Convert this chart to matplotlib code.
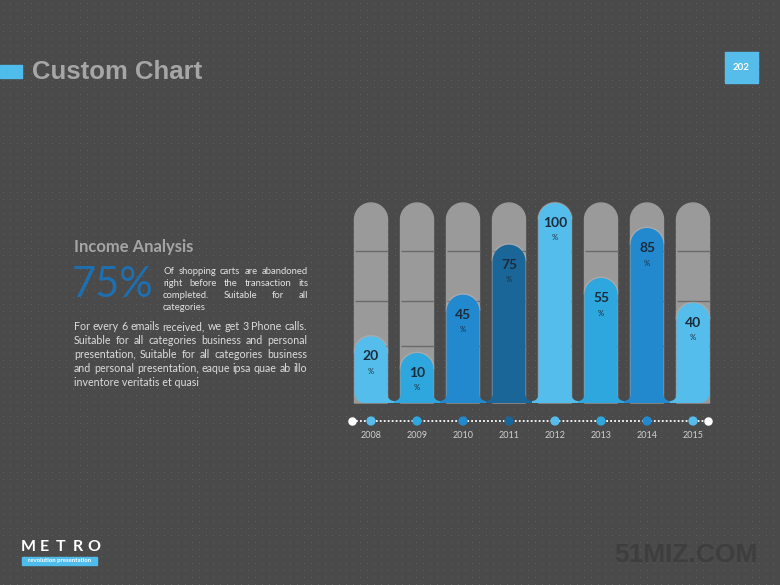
import numpy as np
import matplotlib.pyplot as plt
from matplotlib.patches import Polygon, Rectangle

# data
years = ['2008', '2009', '2010', '2011', '2012', '2013', '2014', '2015']
values = [20, 10, 45, 75, 100, 55, 85, 40]
bar_colors = ['#55bdec', '#2ea6de', '#2389cf', '#1b6699',
              '#55bdec', '#2ea6de', '#2389cf', '#55bdec']
grid_levels = [14, 41, 71]

side_lines = ['Of shopping carts are abandoned',
              'right before the transaction its',
              'completed. Suitable for all',
              'categories']
body_lines = ['For every 6 emails received, we get 3 Phone calls.',
              'Suitable for all categories business and personal',
              'presentation, Suitable for all categories business',
              'and personal presentation, eaque ipsa quae ab illo',
              'inventore veritatis et quasi']

W, H = 780, 585
fig = plt.figure(figsize=(7.8, 5.85), dpi=100)

# dotted dark background
bg = fig.add_axes([0, 0, 1, 1])
img = np.full((H, W, 3), 0x4a / 255)
yy, xx = np.mgrid[0:H, 0:W]
img[(yy % 7 == 3) & (xx % 7 == 3)] = 0x5e / 255
bg.imshow(img, extent=[0, W, H, 0], interpolation='nearest', aspect='auto')
bg.set_xlim(0, W)
bg.set_ylim(H, 0)
bg.axis('off')

# header
bg.add_patch(Rectangle((0, 65), 22, 13, color='#4fbdec'))
bg.text(32, 72, 'Custom Chart', fontsize=18.5, fontweight='bold',
        color='#a6a6a6', family='Liberation Sans', va='center')
bg.add_patch(Rectangle((725, 52), 33, 31, color='#56bdea'))
bg.text(741.5, 67.5, '202', fontsize=7, fontweight='bold', color='white',
        ha='center', va='center', family='Lato')

# left text block
bg.text(74, 247, 'Income Analysis', fontsize=12, fontweight='bold',
        color='#a5a5a5', va='center', family='Lato')
bg.text(72, 285, '75%', fontsize=30, color='#1e6fb0', va='center', family='Lato')

renderer = fig.canvas.get_renderer()


def justified(lines, x0, x1, y0, dy, size, color):
    # y0 is the baseline of the first line
    for i, line in enumerate(lines):
        y = y0 + i * dy
        if i == len(lines) - 1:
            bg.text(x0, y, line, fontsize=size, color=color, va='baseline', family='Lato')
            continue
        words = line.split()
        texts = [bg.text(x0, y, w, fontsize=size, color=color, va='baseline', family='Lato')
                 for w in words]
        widths = [t.get_window_extent(renderer).width for t in texts]
        gap = (x1 - x0 - sum(widths)) / (len(words) - 1)
        x = x0
        for t, w in zip(texts, widths):
            t.set_x(x)
            x += w + gap


justified(side_lines, 163, 308, 274.5, 11.8, 6.8, '#e2e2e2')
justified(body_lines, 74, 307, 330.5, 14, 7.7, '#dcdcdc')

# logo + watermark
for i, ch in enumerate('METRO'):
    bg.text(28 + i * 16.5, 547, ch, fontsize=11.5, fontweight='bold', color='white',
            ha='center', va='center', family='Lato')
bg.add_patch(Rectangle((22, 557), 75, 7.5, color='#4fbdec'))
bg.text(59.5, 560.8, 'revolution presentation', fontsize=4.3, fontweight='bold',
        color='white', ha='center', va='center', family='Lato')
bg.text(686, 555, '51MIZ.COM', fontsize=19, fontweight='bold', color='#3e3e3e',
        ha='center', va='center', family='Liberation Sans')

# chart axes (1 x unit = 46 px, 1 y unit = 1/0.6 px)
ax = fig.add_axes([340 / W, 1 - 450 / H, 380 / W, 260 / H])
ax.set_xlim(-31 / 46, 349 / 46)
ax.set_ylim(-48.2, 107.8)
ax.axis('off')

base = -20
hw = 16.5 / 46          # half bar width
ry = 16.5 * 0.6         # cap height
gx = 6.5 / 46           # half gap, x units
gy = 6.5 * 0.6          # half gap, y units
h0 = 2 * 0.6            # strip under the gaps
cx, cy = 10 / 46, 10 * 0.6  # outer corner radius


def cap_arc(c, top):
    t = np.linspace(np.pi, 0, 40)
    return np.column_stack([c + hw * np.cos(t), top - ry + ry * np.sin(t)])


def tube(c, top):
    return np.vstack([[c - hw, base], cap_arc(c, top), [c + hw, base]])


def bar_shape(c, top, first, last):
    q = np.linspace(0, np.pi / 2, 12)
    if first:
        left = np.column_stack([c - hw + cx - cx * np.cos(q), base + cy - cy * np.sin(q)])[::-1]
    else:
        # concave curve = rounded bottom of the gap between bars
        left = np.column_stack([c - hw - gx + gx * np.cos(q), base + h0 + gy - gy * np.sin(q)])[::-1]
        left = np.vstack([[c - hw - gx, base], left])
    if last:
        right = np.column_stack([c + hw - cx + cx * np.cos(q), base + cy - cy * np.sin(q)])
    else:
        right = np.column_stack([c + hw + gx - gx * np.cos(q), base + h0 + gy - gy * np.sin(q)])
        right = np.vstack([right, [c + hw + gx, base]])
    return np.vstack([left, cap_arc(c, top), right])


xs = np.arange(len(years))
n = len(xs)
for i, (c, v, col) in enumerate(zip(xs, values, bar_colors)):
    ax.add_patch(Polygon(tube(c, 100), closed=True, color='#9a9a9a', zorder=1))
    ax.hlines(grid_levels, c - hw, c + hw, color='#6a6a6a', lw=1, zorder=2)
    ax.add_patch(Polygon(cap_arc(c, v), closed=False, fill=False,
                         edgecolor=(1, 1, 1, 0.15), lw=2, zorder=2.5))
    ax.add_patch(Polygon(bar_shape(c, v, i == 0, i == n - 1), closed=True, facecolor=col,
                         edgecolor='none', zorder=3))
    ax.text(c, v - 12, str(v), ha='center', va='center', fontsize=10,
            fontweight='bold', color='#1c2b3a', family='Lato', zorder=4)
    ax.text(c, v - 21, '%', ha='center', va='center', fontsize=5.5,
            color='#1c2b3a', family='Lato', zorder=4)

# timeline
y_line = -30.8
ends = [-0.41, 7.33]
ax.plot(ends, [y_line, y_line], color='white', lw=1.3, ls=(0, (1, 1.2)), zorder=4)
ax.scatter(ends, [y_line, y_line], s=26, color='white', zorder=5)
ax.scatter(xs, [y_line] * n, s=32, c=bar_colors, zorder=5)
for c, yr in zip(xs, years):
    ax.text(c, -39.8, yr, ha='center', va='center', fontsize=6.5,
            color='#d0d0d0', family='Lato')

fig.savefig('out.png', dpi=100)
